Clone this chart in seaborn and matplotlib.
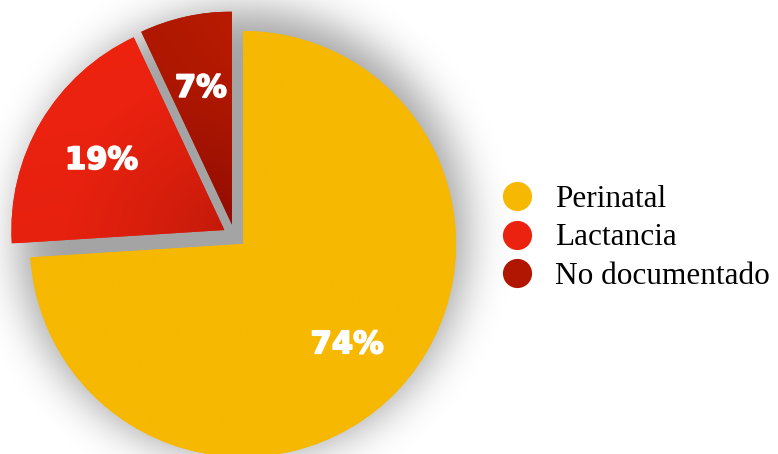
import numpy as np
import matplotlib
matplotlib.use("Agg")
import matplotlib.pyplot as plt
import matplotlib.patheffects as pe
from matplotlib.lines import Line2D
from matplotlib.colors import to_rgb
from matplotlib.transforms import offset_copy
import seaborn as sns

# ---- data ----
categories = ["Perinatal", "Lactancia", "No documentado"]
shares = [74, 19, 7]

colors = ["#F6B800", "#EC2210", "#B01602"]
# (light, dark) ends of the shading used on each slice
shades = [("#F6B800", "#F6B800"), ("#EE2310", "#C01909"), ("#B81B02", "#860800")]

sns.set_style("white")
plt.rcParams["font.family"] = ["DejaVu Sans"]

W, H, DPI = 778, 454, 100
fig = plt.figure(figsize=(W / DPI, H / DPI), dpi=DPI)
ax = fig.add_axes([0, 0, 1, 1])

R_PX = 213.0           # pie radius in pixels
CX, CY = 234.5, 236.0  # pie centre (pixels, from top-left)
xlim = (-CX / R_PX, (W - CX) / R_PX)
ylim = (-(H - CY) / R_PX, CY / R_PX)

wedges, texts, autotexts = ax.pie(
    shares,
    colors=colors,
    startangle=90,
    counterclock=False,
    explode=[0.055, 0.055, 0.055],
    autopct=lambda p: f"{p:.0f}%",
    pctdistance=0.67,
    radius=1.0,
    wedgeprops=dict(linewidth=0, zorder=3),
    textprops=dict(color="white", fontsize=22, fontweight="bold",
                   family=["DejaVu Sans"]),
)
for t in autotexts:
    t.set_zorder(10)
    t.set_path_effects([pe.withStroke(linewidth=1.3, foreground="white")])
    t.set_transform(offset_copy(t.get_transform(), fig=fig, x=0, y=-3.0, units="dots"))

ax.set_xlim(*xlim)
ax.set_ylim(*ylim)
ax.set_axis_off()

# ---- soft drop shadow behind the pie ----
xs = np.linspace(xlim[0], xlim[1], W)
ys = np.linspace(ylim[1], ylim[0], H)
gx, gy = np.meshgrid(xs, ys)
off_x, off_y = 8 / R_PX, 2 / R_PX
mask = (np.hypot(gx - off_x, gy - off_y) <= 1.0 + 12 / R_PX).astype(float)
sigma = 21.0
k = np.arange(-int(3 * sigma), int(3 * sigma) + 1)
kern = np.exp(-0.5 * (k / sigma) ** 2)
kern /= kern.sum()
pad = len(k)
m = np.pad(mask, pad)
m = np.apply_along_axis(lambda r: np.convolve(r, kern, mode="same"), 1, m)
m = np.apply_along_axis(lambda c: np.convolve(c, kern, mode="same"), 0, m)
m = m[pad:-pad, pad:-pad]
shadow = np.zeros((H, W, 4))
shadow[..., 3] = 0.36 * m
ax.imshow(shadow, extent=(xlim[0], xlim[1], ylim[0], ylim[1]),
          origin="upper", zorder=1, interpolation="bilinear")

# ---- shaded fills clipped to each slice: dark near the tip, light outward ----
tip_weight = [0.0, 0.8, 0.55]
grad_dirs = [(0.0, 1.0), (-0.2, 1.0), (0.9, 0.6)]
for w, (light, dark), (dx, dy), tw in zip(wedges, shades, grad_dirs, tip_weight):
    tr = w.get_transform() - ax.transData
    bb = w.get_path().get_extents(tr)
    x0, y0, x1, y1 = bb.x0, bb.y0, bb.x1, bb.y1
    tip = np.array(w.center)
    nx, ny = 240, 240
    px = np.linspace(x0, x1, nx)
    py = np.linspace(y1, y0, ny)
    pxx, pyy = np.meshgrid(px, py)
    # radial part: distance from the slice tip
    rad = np.clip(np.hypot(pxx - tip[0], pyy - tip[1]) / 0.75, 0, 1) ** 0.7
    # linear part along a direction
    n = np.hypot(dx, dy)
    lin = (pxx * dx + pyy * dy) / n
    lin = (lin - lin.min()) / (lin.max() - lin.min() + 1e-9)
    t = tw * rad + (1 - tw) * lin
    c0, c1 = np.array(to_rgb(dark)), np.array(to_rgb(light))
    img = c0 + (c1 - c0) * t[..., None]
    im = ax.imshow(img, extent=(x0, x1, y0, y1), origin="upper",
                   zorder=4, interpolation="bilinear")
    im.set_clip_path(w)

ax.set_xlim(*xlim)
ax.set_ylim(*ylim)

# ---- legend ----
handles = [Line2D([0], [0], marker="o", linestyle="none", markersize=21,
                  markerfacecolor=c, markeredgewidth=0) for c in colors]
leg = fig.legend(handles, categories, loc="center left",
                 bbox_to_anchor=(501.5 / W, 1 - 238 / H),
                 frameon=False, borderpad=0, borderaxespad=0,
                 handlelength=0.98, handletextpad=0.72, labelspacing=0.29,
                 labelcolor="black",
                 prop=dict(family="Liberation Serif", size=22.5))

fig.savefig("out.png", dpi=DPI, facecolor="white")
